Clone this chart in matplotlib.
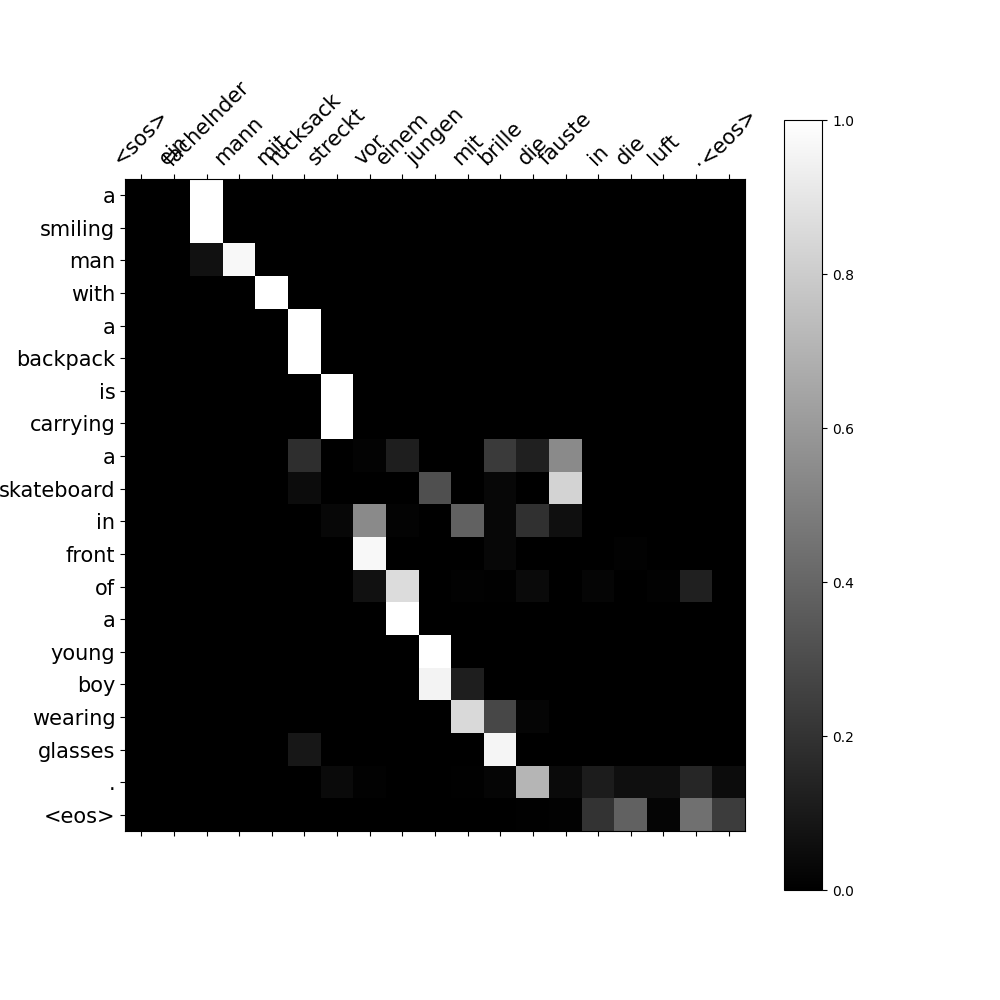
import matplotlib
matplotlib.use("Agg")
import matplotlib.pyplot as plt
import numpy as np

src = ['<sos>', 'ein', 'lachelnder', 'mann', 'mit', 'rucksack', 'streckt', 'vor',
       'einem', 'jungen', 'mit', 'brille', 'die', 'fauste', 'in', 'die', 'luft', '.', '<eos>']
trg = ['a', 'smiling', 'man', 'with', 'a', 'backpack', 'is', 'carrying', 'a', 'skateboard',
       'in', 'front', 'of', 'a', 'young', 'boy', 'wearing', 'glasses', '.', '<eos>']

# attention weights, one row per output word
r00 = [0, 0, 1.00, 0, 0, 0, 0, 0, 0, 0, 0, 0, 0, 0, 0, 0, 0, 0, 0]
r01 = [0, 0, 1.00, 0, 0, 0, 0, 0, 0, 0, 0, 0, 0, 0, 0, 0, 0, 0, 0]
r02 = [0, 0, 0.07, 0.97, 0, 0, 0, 0, 0, 0, 0, 0, 0, 0, 0, 0, 0, 0, 0]
r03 = [0, 0, 0, 0, 1.00, 0, 0, 0, 0, 0, 0, 0, 0, 0, 0, 0, 0, 0, 0]
r04 = [0, 0, 0, 0, 0, 1.00, 0, 0, 0, 0, 0, 0, 0, 0, 0, 0, 0, 0, 0]
r05 = [0, 0, 0, 0, 0, 1.00, 0, 0, 0, 0, 0, 0, 0, 0, 0, 0, 0, 0, 0]
r06 = [0, 0, 0, 0, 0, 0, 1.00, 0, 0, 0, 0, 0, 0, 0, 0, 0, 0, 0, 0]
r07 = [0, 0, 0, 0, 0, 0, 1.00, 0, 0, 0, 0, 0, 0, 0, 0, 0, 0, 0, 0]
r08 = [0, 0, 0, 0, 0, 0.18, 0, 0.015, 0.12, 0, 0, 0.23, 0.13, 0.54, 0, 0, 0, 0, 0]
r09 = [0, 0, 0, 0, 0, 0.05, 0, 0, 0, 0.31, 0, 0.03, 0, 0.83, 0, 0, 0, 0, 0]
r10 = [0, 0, 0, 0, 0, 0, 0.03, 0.54, 0.015, 0, 0.38, 0.03, 0.19, 0.06, 0, 0, 0, 0, 0]
r11 = [0, 0, 0, 0, 0, 0, 0, 0.97, 0, 0, 0, 0.03, 0, 0, 0, 0.01, 0, 0, 0]
r12 = [0, 0, 0, 0, 0, 0, 0, 0.07, 0.86, 0, 0.01, 0.005, 0.04, 0, 0.02, 0, 0.01, 0.13, 0]
r13 = [0, 0, 0, 0, 0, 0, 0, 0, 1.00, 0, 0, 0, 0, 0, 0, 0, 0, 0, 0]
r14 = [0, 0, 0, 0, 0, 0, 0, 0, 0, 1.00, 0, 0, 0, 0, 0, 0, 0, 0, 0]
r15 = [0, 0, 0, 0, 0, 0, 0, 0, 0, 0.95, 0.12, 0, 0, 0, 0, 0, 0, 0, 0]
r16 = [0, 0, 0, 0, 0, 0, 0, 0, 0, 0, 0.85, 0.28, 0.02, 0, 0, 0, 0, 0, 0]
r17 = [0, 0, 0, 0, 0, 0.09, 0, 0, 0, 0, 0, 0.96, 0, 0, 0, 0, 0, 0, 0]
r18 = [0, 0, 0, 0, 0, 0, 0.04, 0.01, 0, 0, 0.005, 0.02, 0.71, 0.04, 0.11, 0.06, 0.06, 0.15, 0.05]
r19 = [0, 0, 0, 0, 0, 0, 0, 0, 0, 0, 0, 0, 0.005, 0.01, 0.20, 0.38, 0.02, 0.44, 0.24]

attention = np.array([r00, r01, r02, r03, r04, r05, r06, r07, r08, r09,
                      r10, r11, r12, r13, r14, r15, r16, r17, r18, r19])

fig = plt.figure(figsize=(10, 10), dpi=100)
ax = fig.add_subplot(111)
cax = ax.matshow(attention, cmap='gray', vmin=0, vmax=1)
fig.colorbar(cax)

ax.tick_params(labelsize=15)
ax.set_xticks(range(len(src)))
ax.set_xticklabels(src, rotation=45)
ax.set_yticks(range(len(trg)))
ax.set_yticklabels(trg)

plt.savefig('out.png', dpi=100)
